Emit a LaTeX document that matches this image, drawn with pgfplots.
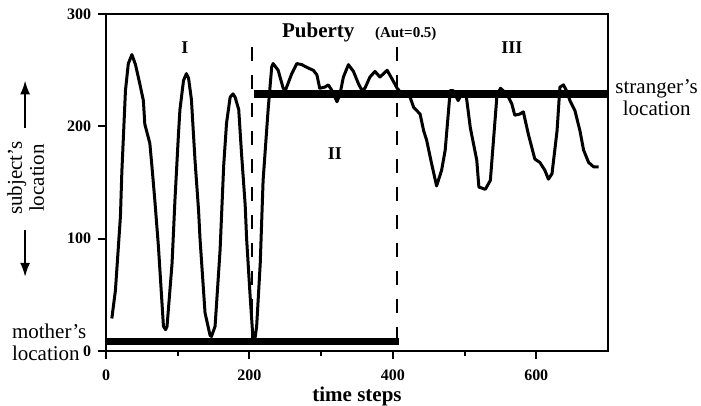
\documentclass[border=0pt]{standalone}
\usepackage{fontspec}
\setmainfont{Liberation Serif}
\usepackage{pgfplots}
\pgfplotsset{compat=1.18}
\usetikzlibrary{arrows.meta}
\begin{document}
\begin{tikzpicture}
\begin{axis}[
  scale only axis, width=251pt, height=168.5pt,
  xmin=0, xmax=700, ymin=0, ymax=300,
  axis line style={line width=1pt},
  xtick={0,200,400,600}, minor xtick={100,300,500},
  ytick={0,100,200,300},
  xtick pos=left, ytick pos=left,
  tick align=outside,
  major tick length=4pt, minor tick length=2.5pt,
  tick style={line width=1pt, black},
  /pgf/number format/assume math mode=true,
  tick label style={font=\bfseries\fontsize{8}{9}\selectfont},
  xticklabel style={yshift=-2pt},
  xlabel={time steps},
  xlabel style={font=\bfseries\fontsize{10.5}{12}\selectfont, at={(axis description cs:0.5,-0.135)}, anchor=center},
  clip=false,
]
% mother's location
\addplot[line width=3.7pt] coordinates {(0,8.5) (409,8.5)};
% stranger's location
\addplot[line width=3.7pt] coordinates {(206,229) (700,229)};
% phase boundaries
\addplot[line width=1pt, dash pattern=on 7pt off 7pt] coordinates {(203,271) (203,0)};
\addplot[line width=1pt, dash pattern=on 7pt off 7pt] coordinates {(406,271) (406,0)};
% subject's location
\addplot[line width=1.5pt, line join=round] coordinates {
(8,29)(13,54)(20,120)(22,160)(27,232)(31,256)(36,264)(41,255)(47,238)(52,223)(54,202)
(61,185)(64,164)(68,134)(73,93)(80,22)(83,19)(85,22)(92,78)(96,134)(101,194)(103,215)
(108,241)(112,247)(115,243)(119,224)(124,170)(129,125)(131,100)(138,34)(145,14)(147,13)
(152,22)(159,90)(164,165)(168,203)(173,226)(177,229)(180,226)(185,215)(189,175)(194,130)
(196,100)(201,48)(205,10)(207,8)(210,22)(215,78)(219,152)(226,215)(231,253)(233,256)
(240,250)(247,234)(250,232)(259,247)(266,256)(273,255)(282,252)(289,250)(294,246)(298,234)
(305,235)(310,237)(315,232)(322,222)(326,228)(331,244)(338,255)(345,249)(352,238)(357,232)
(361,234)(368,244)(375,249)(382,244)(392,250)(400,241)(406,234)(410,231)(424,226)(429,217)
(438,211)(443,196)(447,188)(454,167)(461,147)(468,161)(473,179)(480,232)(484,232)(491,223)
(496,229)(502,229)(508,199)(517,170)(520,146)(529,144)(536,152)(545,226)(550,234)(559,229)
(566,220)(570,210)(577,211)(582,213)(589,193)(598,171)(605,168)(612,161)(617,153)(622,158)
(629,196)(633,235)(638,237)(642,232)(647,223)(654,214)(661,196)(666,179)(673,168)(680,164)
(687,164)
};
% annotations
\node[font=\bfseries\fontsize{9}{10}\selectfont] at (axis cs:110,270) {I};
\node[font=\bfseries\fontsize{9}{10}\selectfont] at (axis cs:319,176) {II};
\node[font=\bfseries\fontsize{9}{10}\selectfont] at (axis cs:566,270) {III};
\node[font=\bfseries\fontsize{10.5}{12}\selectfont, anchor=base] at (axis cs:296,279) {Puberty};
\node[font=\bfseries\fontsize{7.5}{9}\selectfont, anchor=base] at (axis cs:418,279) {(Aut=0.5)};
\node[align=center, font=\fontsize{10.5}{11}\selectfont] at (axis cs:768,226) {stranger's\\location};
\node[align=left, anchor=west, font=\fontsize{10.5}{11}\selectfont] at (axis cs:-141,8) {mother's\\location};
\node[rotate=90, align=center, font=\fontsize{10.5}{11}\selectfont] at (axis cs:-112,154) {subject's\\location};
\draw[line width=1pt, -{Latex[length=7pt,width=5pt]}] (axis cs:-113,199) -- (axis cs:-113,241);
\draw[line width=1pt, -{Latex[length=7pt,width=5pt]}] (axis cs:-113,108) -- (axis cs:-113,66);
\coordinate (bbA) at (axis cs:-148,-48.1);
\coordinate (bbB) at (axis cs:829.8,312.6);
\end{axis}
\pgfresetboundingbox
\path (bbA) rectangle (bbB);
\end{tikzpicture}
\end{document}
